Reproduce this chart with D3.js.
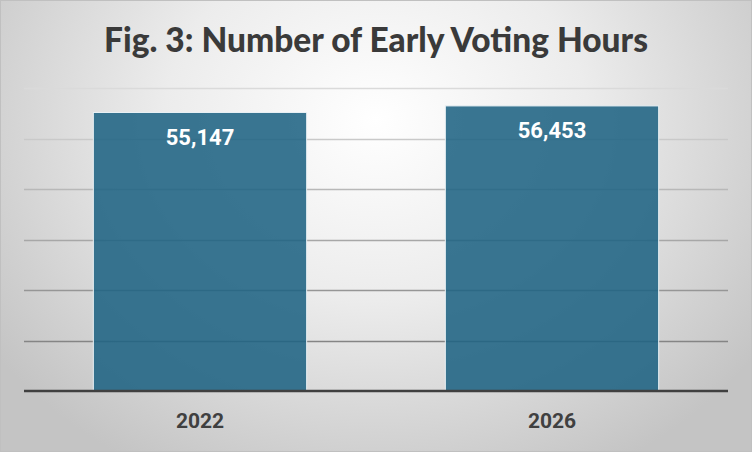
<!DOCTYPE html>
<html><head><meta charset="utf-8">
<script src="https://cdn.jsdelivr.net/npm/d3@7"></script>
<style>html,body{margin:0;padding:0;background:#fff;}svg{display:block;}</style>
</head><body>
<svg id="chart" width="752" height="452"></svg>
<script>
const categories = ["2022", "2026"];
const values = [55147, 56453];
const yTicks = [0, 10000, 20000, 30000, 40000, 50000, 60000];
const title = "Fig. 3: Number of Early Voting Hours";

const W = 752, H = 452;
const svg = d3.select("#chart");
const defs = svg.append("defs");
const rg = defs.append("radialGradient").attr("id","bg")
  .attr("gradientUnits","userSpaceOnUse")
  .attr("cx",376).attr("cy",120).attr("r",470)
  .attr("gradientTransform","translate(376,120) scale(1,0.85) translate(-376,-120)");
rg.append("stop").attr("offset","0").attr("stop-color","#ffffff");
rg.append("stop").attr("offset","0.45").attr("stop-color","#ececec");
rg.append("stop").attr("offset","1").attr("stop-color","#c4c4c4");

svg.append("rect").attr("x",0).attr("y",0).attr("width",W).attr("height",H).attr("fill","url(#bg)");
svg.append("rect").attr("x",0.5).attr("y",0.5).attr("width",W-1).attr("height",H-1)
  .attr("fill","none").attr("stroke","#c0c0c0").attr("stroke-width",1);

const margin = {left:24, right:24, top:88, bottom:61};
const x = d3.scaleBand().domain(categories).range([margin.left, W-margin.right]).paddingInner(0.394).paddingOuter(0.197);
const y = d3.scaleLinear().domain([0, 60000]).range([H-margin.bottom, margin.top]);

const gridColor = d3.scaleLinear().domain([60000, 10000]).range(["#dadada","#858585"]);
svg.append("g").selectAll("line").data(yTicks.filter(d=>d>0)).join("line")
  .attr("x1", margin.left).attr("x2", W-margin.right)
  .attr("y1", d=>Math.round(y(d))+0.5).attr("y2", d=>Math.round(y(d))+0.5)
  .attr("stroke", d=>gridColor(d)).attr("stroke-width", 1.5);

svg.append("g").selectAll("rect").data(categories).join("rect")
  .attr("x", d=>x(d)).attr("width", x.bandwidth())
  .attr("y", (d,i)=>y(values[i])).attr("height", (d,i)=>y(0)-y(values[i]))
  .attr("fill","#1f6383").attr("fill-opacity",0.88)
  .attr("stroke","#e8f0f4").attr("stroke-width",1);

svg.append("g").selectAll("text").data(categories).join("text")
  .attr("x", d=>x(d)+x.bandwidth()/2).attr("y", (d,i)=>y(values[i])+32)
  .attr("text-anchor","middle").attr("fill","#ffffff")
  .style("font-family","Roboto, 'Liberation Sans', sans-serif").style("font-weight","700").style("font-size","22px")
  .text((d,i)=>d3.format(",")(values[i]));

const xAxis = svg.append("g").attr("transform",`translate(0,${y(0)})`).call(d3.axisBottom(x).tickSize(0).tickPadding(22));
xAxis.select(".domain").attr("stroke","#404040").attr("stroke-width",2.5)
  .attr("d", `M${margin.left},0H${W-margin.right}`);
xAxis.selectAll("text").attr("fill","#404040")
  .style("font-family","Roboto, 'Liberation Sans', sans-serif").style("font-weight","700").style("font-size","21px");

const t = svg.append("text").attr("x", W/2).attr("y", 52).attr("text-anchor","middle")
  .attr("fill","#3a3a3a")
  .style("font-family","Lato, 'Open Sans', sans-serif").style("font-weight","900").style("font-size","35px")
  .text(title);
const len = t.node().getComputedTextLength();
if (Math.abs(len-544) > 4) t.attr("textLength",544).attr("lengthAdjust","spacingAndGlyphs");
</script>
</body></html>
